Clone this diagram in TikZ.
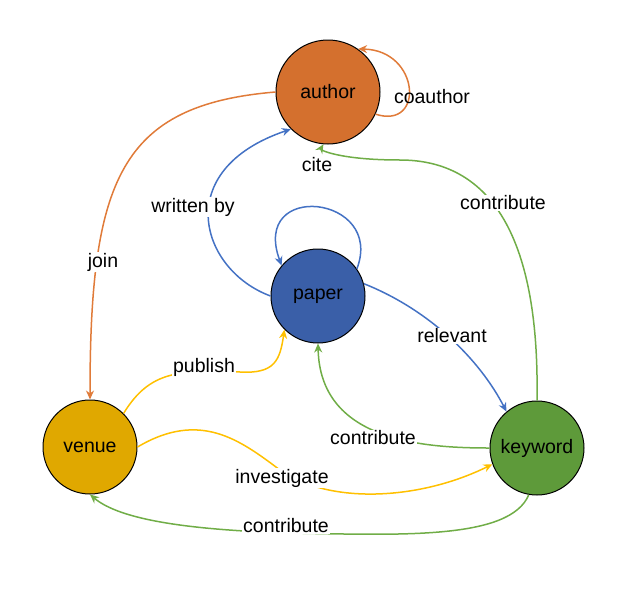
\documentclass[tikz,border=0pt]{standalone}
\usepackage{fontspec}
\setmainfont{Liberation Sans}
\usetikzlibrary{arrows.meta}
\definecolor{cAuth}{HTML}{D4702E}
\definecolor{cPap}{HTML}{3A5FA8}
\definecolor{cVen}{HTML}{E0A800}
\definecolor{cKey}{HTML}{5E9A3A}
\definecolor{eO}{HTML}{E07B39}
\definecolor{eB}{HTML}{4472C4}
\definecolor{eY}{HTML}{FFC000}
\definecolor{eG}{HTML}{70AD47}
\begin{document}
\begin{tikzpicture}[x=1pt,y=-1pt,
  ent/.style={circle,draw=black,line width=1pt,minimum size=94pt,inner sep=0pt,font=\fontsize{19.5}{22}\selectfont},
  edge/.style={line width=1.5pt,-{Stealth[length=9pt,width=8pt]}},
  lab/.style={fill=white,inner sep=1pt,font=\fontsize{19.5}{22}\selectfont}]
\useasboundingbox (0,0) rectangle (628,589);
\node[ent,fill=cAuth,minimum size=104pt] (author) at (328,92) {author};
\node[ent,fill=cPap] (paper) at (318,296) {paper};
\node[ent,fill=cVen] (venue) at (90,447) {venue};
\node[ent,fill=cKey] (keyword) at (537,448) {keyword};
% coauthor loop
\draw[edge,eO] (author.-25) .. controls (425,130) and (420,50) .. (author.55);
\node[lab,fill=none] (lco) at (432,97) {coauthor};
% join
\draw[edge,eO] (author.180) .. controls (120,105) and (90,180) .. (venue.90);
\node[lab] (ljoin) at (103,262) {join};
% written by
\draw[edge,eB] (paper.180) .. controls (200,270) and (170,170) .. (author.-135);
\node[lab] (lwb) at (193,207) {written by};
% cite
\draw[edge,eB] (paper.35) .. controls (385,195) and (250,180) .. (paper.140);
\node[lab] (lcite) at (317,165) {cite};
% relevant
\draw[edge,eB] (paper.15) .. controls (430,310) and (480,360) .. (keyword.130);
\node[lab] (lrel) at (452,336) {relevant};
% keyword -> author
\draw[edge,eG] (keyword.90) .. controls (540,220) and (480,160) .. (400,160) .. controls (340,160) and (320,150) .. (author.-95);
\node[lab] (lkc) at (503,203) {contribute};
% keyword -> paper
\draw[edge,eG] (keyword.180) .. controls (420,448) and (320,440) .. (paper.-90);
\node[lab] (lkp) at (373,438) {contribute};
% publish
\draw[edge,eY] (venue.45) .. controls (150,370) and (180,370) .. (240,372) .. controls (275,374) and (280,360) .. (paper.-135);
\node[lab] (lpub) at (204,367) {publish};
% investigate
\draw[edge,eY] (venue.0) .. controls (200,410) and (240,440) .. (280,470) .. controls (330,505) and (420,500) .. (keyword.-160);
\node[lab] (linv) at (282,478) {investigate};
% keyword -> venue
\draw[edge,eG] (keyword.-100) .. controls (510,540) and (400,535) .. (290,533) .. controls (190,530) and (120,520) .. (venue.-90);
\node[lab] (lkv) at (286,526) {contribute};
\end{tikzpicture}
\end{document}
